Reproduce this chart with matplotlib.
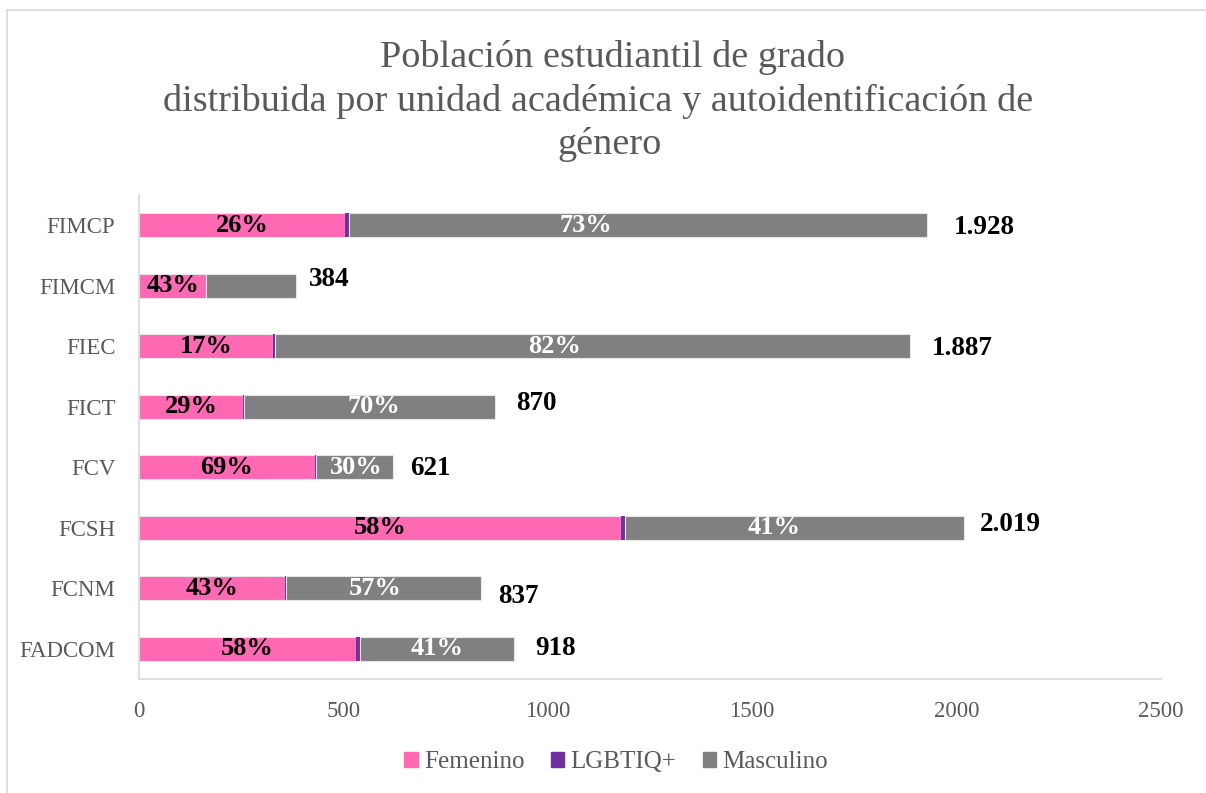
import matplotlib
matplotlib.use("Agg")
import matplotlib.pyplot as plt
from matplotlib.lines import Line2D
from matplotlib.patches import Patch
import numpy as np

# data (top to bottom)
units = ["FIMCP", "FIMCM", "FIEC", "FICT", "FCV", "FCSH", "FCNM", "FADCOM"]
femenino = [505, 165, 327, 255, 430, 1179, 358, 532]
lgbtiq = [8, 0, 5, 2, 2, 10, 1, 8]
masculino = [1415, 219, 1555, 613, 189, 830, 478, 378]
x_ticks = [0, 500, 1000, 1500, 2000, 2500]
title_lines = [
    "Población estudiantil de grado",
    "distribuida por unidad académica y autoidentificación de",
    "género",
]

# label placement tweaks (layout only)
masc_label_frac = [0.41, None, 0.44, 0.52, 0.52, 0.44, 0.46, 0.50]
total_dx_px = [27, 13, 21, 21, 17, 16, 17, 21]
total_dy_px = [2, -6, 2, -3, 1, -3, 8, 0]
title_x_px = [613, 598, 610]

PINK = "#FF69B4"
PURPLE = "#7030A0"
GRAY = "#808080"
TEXT = "#595959"
FONT = ["Liberation Serif", "DejaVu Serif"]

plt.rcParams["font.family"] = FONT

W, H = 1206, 793
fig = plt.figure(figsize=(W / 100, H / 100), dpi=100)
ax = fig.add_axes([139 / W, 1 - 679 / H, (1161 - 139) / W, (679 - 195) / H])

y = np.arange(len(units))
fem = np.array(femenino)
lg = np.array(lgbtiq)
ma = np.array(masculino)
total = fem + lg + ma

edge = dict(edgecolor="#e6e6e6", linewidth=0.8, height=0.4)
ax.barh(y, fem, color=PINK, label="Femenino", **edge)
ax.barh(y, lg, left=fem, color=PURPLE, label="LGBTIQ+", height=0.4, linewidth=0)
ax.barh(y, ma, left=fem + lg, color=GRAY, label="Masculino", **edge)

for i in range(len(units)):
    ax.text(fem[i] / 2, y[i], f"{fem[i] / total[i]:.0%}", ha="center", va="center",
            fontsize=19, fontweight="bold", color="black")
    if masc_label_frac[i] is not None:
        xm = fem[i] + lg[i] + ma[i] * masc_label_frac[i]
        ax.text(xm, y[i], f"{ma[i] / total[i]:.0%}", ha="center", va="center",
                fontsize=19, fontweight="bold", color="white")
    ax.annotate(f"{total[i]:,}".replace(",", "."), xy=(total[i], y[i]),
                xytext=(total_dx_px[i] * 0.72, -total_dy_px[i] * 0.72),
                textcoords="offset points", ha="left", va="center",
                fontsize=19.5, fontweight="bold", color="black")

ax.set_xlim(0, 2500)
ax.set_ylim(len(units) - 0.5, -0.5)
ax.set_yticks(y)
ax.set_yticklabels(units)
ax.set_xticks(x_ticks)
ax.tick_params(axis="both", length=0, labelsize=16.5, labelcolor=TEXT)
ax.tick_params(axis="y", pad=17)
ax.tick_params(axis="x", pad=16)
for side in ["top", "right"]:
    ax.spines[side].set_visible(False)
for side in ["left", "bottom"]:
    ax.spines[side].set_color("#d9d9d9")
    ax.spines[side].set_linewidth(1.2)

handles = [Patch(color=PINK), Patch(color=PURPLE), Patch(color=GRAY)]
leg = fig.legend(handles, ["Femenino", "LGBTIQ+", "Masculino"], loc="center",
                 bbox_to_anchor=(616 / W, 1 - 762 / H), ncol=3, frameon=False,
                 fontsize=18, handlelength=0.55, handleheight=0.55,
                 handletextpad=0.25, columnspacing=1.05)
for t in leg.get_texts():
    t.set_color(TEXT)

for i, line in enumerate(title_lines):
    fig.text(title_x_px[i] / W, 1 - (67 + i * 43.7) / H, line, ha="center",
             va="baseline", fontsize=27.5, color=TEXT)

# chart border (clipped on right and bottom like the screenshot)
fig.add_artist(Line2D([7 / W, 1], [1 - 10 / H, 1 - 10 / H], color="#d9d9d9", lw=1.2))
fig.add_artist(Line2D([7 / W, 7 / W], [0, 1 - 10 / H], color="#d9d9d9", lw=1.2))

fig.savefig("out.png", dpi=100)
